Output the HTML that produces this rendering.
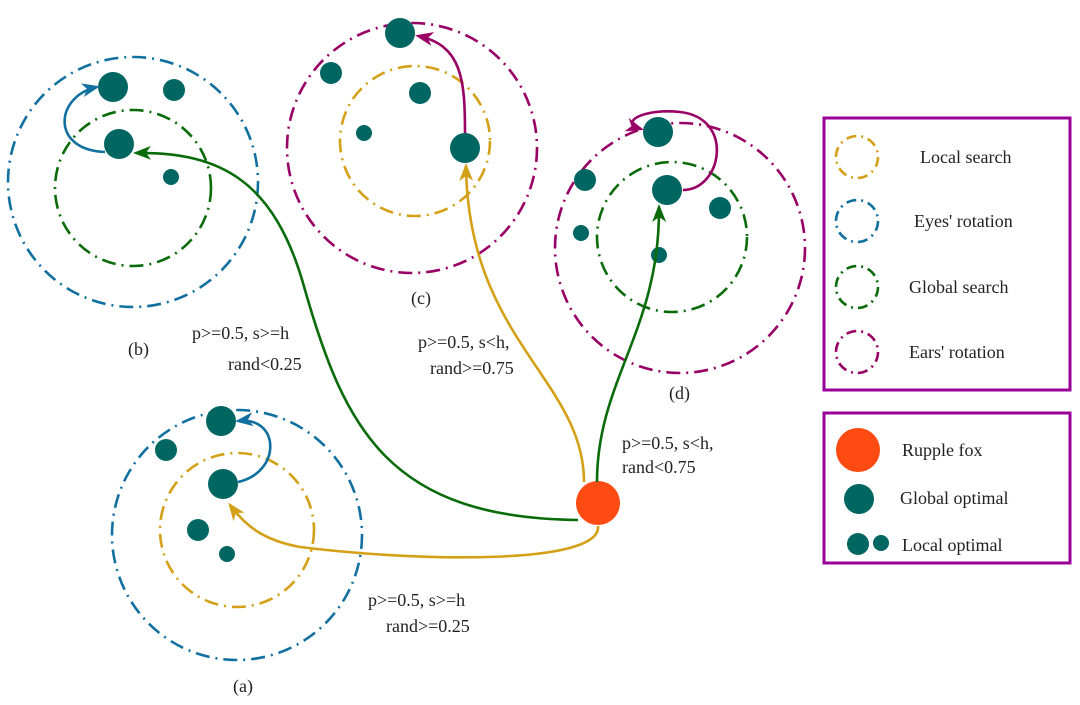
<!DOCTYPE html>
<html><head><meta charset="utf-8"><style>
html,body{margin:0;padding:0;background:#fff;}
svg text{font-family:"Liberation Serif",serif;font-size:18px;fill:#222;}
</style></head><body>
<svg width="1080" height="700" viewBox="0 0 1080 700" xmlns="http://www.w3.org/2000/svg">
<defs>
<marker id="ag" viewBox="0 0 18 14" markerWidth="18" markerHeight="14" refX="15" refY="7" orient="auto" markerUnits="userSpaceOnUse"><path d="M0,0 L18,7 L0,14 L5,7z" fill="#0a6b0a"/></marker>
<marker id="ay" viewBox="0 0 18 14" markerWidth="18" markerHeight="14" refX="15" refY="7" orient="auto" markerUnits="userSpaceOnUse"><path d="M0,0 L18,7 L0,14 L5,7z" fill="#d4a017"/></marker>
<marker id="ab" viewBox="0 0 18 14" markerWidth="18" markerHeight="14" refX="15" refY="7" orient="auto" markerUnits="userSpaceOnUse"><path d="M0,0 L18,7 L0,14 L5,7z" fill="#1170a0"/></marker>
<marker id="ap" viewBox="0 0 18 14" markerWidth="18" markerHeight="14" refX="15" refY="7" orient="auto" markerUnits="userSpaceOnUse"><path d="M0,0 L18,7 L0,14 L5,7z" fill="#990066"/></marker>
</defs>
<g fill="none" stroke-width="2.6" stroke-dasharray="14 6 2 6">
<circle cx="133" cy="182" r="125" stroke="#1170a0"/>
<circle cx="133" cy="188" r="78" stroke="#0a6b0a"/>
<circle cx="412" cy="148" r="125" stroke="#990066"/>
<circle cx="415" cy="141" r="75" stroke="#d4a017"/>
<circle cx="680" cy="248" r="125" stroke="#990066"/>
<circle cx="672" cy="237" r="75" stroke="#0a6b0a"/>
<circle cx="237" cy="535" r="125" stroke="#1170a0"/>
<circle cx="237" cy="530" r="77" stroke="#d4a017"/>
</g>
<g fill="#006661">
<circle cx="113" cy="87" r="15"/><circle cx="174" cy="90" r="11"/><circle cx="119" cy="144" r="15"/><circle cx="171" cy="177" r="8"/>
<circle cx="400" cy="33" r="15"/><circle cx="331" cy="73" r="11"/><circle cx="420" cy="93" r="11"/><circle cx="364" cy="133" r="8"/><circle cx="465" cy="148" r="15"/>
<circle cx="658" cy="132" r="15"/><circle cx="585" cy="180" r="11"/><circle cx="667" cy="190" r="15"/><circle cx="720" cy="208" r="11"/><circle cx="581" cy="233" r="8"/><circle cx="659" cy="255" r="8"/>
<circle cx="221" cy="421" r="15"/><circle cx="166" cy="450" r="11"/><circle cx="223" cy="484" r="15"/><circle cx="198" cy="530" r="11"/><circle cx="227" cy="554" r="8"/>
</g>
<circle cx="598" cy="503" r="22" fill="#ff4a12"/>
<g fill="none" stroke-width="2.6">
<path d="M578,520 C390,518 345,430 305,290 C275,180 220,152 136,153" stroke="#0a6b0a" marker-end="url(#ag)"/>
<path d="M584,482 C584,380 468,340 466,166" stroke="#d4a017" marker-end="url(#ay)"/>
<path d="M597,482 C597,380 660,330 659,207" stroke="#0a6b0a" marker-end="url(#ag)"/>
<path d="M598,526 C602,565 420,562 300,547 C262,540 245,525 230,505" stroke="#d4a017" marker-end="url(#ay)"/>
<path d="M105,152 C50,150 55,96 97,87" stroke="#1170a0" marker-end="url(#ab)"/>
<path d="M238,482 C282,472 280,416 238,421" stroke="#1170a0" marker-end="url(#ab)"/>
<path d="M465,133 C465,80 462,45 418,36" stroke="#990066" marker-end="url(#ap)"/>
<path d="M683,190 C722,190 735,118 680,112 C645,108 618,122 641,129" stroke="#990066" marker-end="url(#ap)"/>
</g>
<text x="128" y="355">(b)</text>
<text x="192" y="339">p&gt;=0.5, s&gt;=h</text>
<text x="228" y="370">rand&lt;0.25</text>
<text x="411" y="304">(c)</text>
<text x="418" y="348">p&gt;=0.5, s&lt;h,</text>
<text x="430" y="374">rand&gt;=0.75</text>
<text x="669" y="399">(d)</text>
<text x="622" y="449">p&gt;=0.5, s&lt;h,</text>
<text x="622" y="473">rand&lt;0.75</text>
<text x="368" y="606">p&gt;=0.5, s&gt;=h</text>
<text x="386" y="632">rand&gt;=0.25</text>
<text x="233" y="692">(a)</text>
<rect x="824" y="118" width="246" height="272" fill="none" stroke="#990099" stroke-width="3"/>
<rect x="824" y="413" width="246" height="150" fill="none" stroke="#990099" stroke-width="3"/>
<g fill="none" stroke-width="2.6" stroke-dasharray="10 5 2 5">
<circle cx="857" cy="157" r="21" stroke="#d4a017"/>
<circle cx="857" cy="221" r="21" stroke="#1170a0"/>
<circle cx="857" cy="287" r="21" stroke="#0a6b0a"/>
<circle cx="857" cy="352" r="21" stroke="#990066"/>
</g>
<text x="920" y="163">Local search</text>
<text x="914" y="227">Eyes' rotation</text>
<text x="909" y="293">Global search</text>
<text x="909" y="358">Ears' rotation</text>
<circle cx="858" cy="450" r="22" fill="#ff4a12"/>
<circle cx="859" cy="499" r="15" fill="#006661"/>
<circle cx="858" cy="544" r="11" fill="#006661"/>
<circle cx="881" cy="543" r="8" fill="#006661"/>
<text x="902" y="456">Rupple fox</text>
<text x="900" y="504">Global optimal</text>
<text x="902" y="551">Local optimal</text>
</svg>
</body></html>
